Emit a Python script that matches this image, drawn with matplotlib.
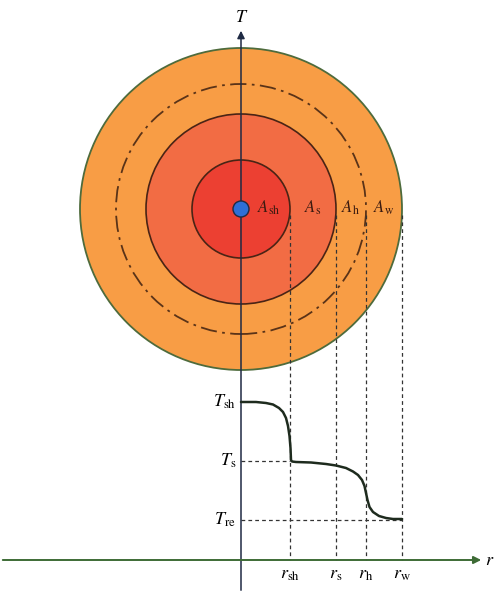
import matplotlib.pyplot as plt
from matplotlib.patches import Circle

plt.rcParams["mathtext.fontset"] = "stix"
plt.rcParams["font.family"] = "STIXGeneral"

# zone radii (sh = shell, s, h, w = wall) along the r axis
radii = [49, 95, 125, 161]
r_names = ["sh", "s", "h", "w"]
ring_colors = ["#EC4032", "#F26C44", "#F89D45", "#F89D45"]
center_y = 351

# temperature levels
T_levels = [158, 99, 40]
T_names = ["sh", "s", "re"]

# temperature profile T(r)
prof_r = [0, 15, 25, 32, 38, 42, 45, 47, 48.5, 49.5, 50, 51, 55, 70, 85, 95,
          105, 112, 117, 121, 123.5, 125, 126.5, 128.5, 132, 138, 145, 152, 161]
prof_T = [158, 158, 157, 155.5, 152, 148, 142, 134, 124, 112, 100, 98.5, 98,
          97.5, 96, 94.5, 92, 88.5, 85, 80, 74, 67, 60, 53, 48, 44, 42, 41, 41]

fig = plt.figure(figsize=(4.95, 5.93), dpi=100)
ax = fig.add_axes([0, 0, 1, 1])
ax.set_xlim(-241, 254)
ax.set_ylim(-33, 560)
ax.axis("off")

# concentric zones, outermost first
ax.add_patch(Circle((0, center_y), radii[3], fc=ring_colors[3], ec="#4E6B3C", lw=1.3, zorder=1))
ax.add_patch(Circle((0, center_y), radii[2], fc="none", ec="#5A3318", lw=1.3,
                    ls=(0, (9, 3, 1.5, 3)), zorder=2))
ax.add_patch(Circle((0, center_y), radii[1], fc=ring_colors[1], ec="#4A2415", lw=1.2, zorder=2))
ax.add_patch(Circle((0, center_y), radii[0], fc=ring_colors[0], ec="#4A2415", lw=1.2, zorder=3))

# axes with arrows
ax.annotate("", xy=(0, 532), xytext=(0, -33),
            arrowprops=dict(arrowstyle="-|>", color="#1F2A44", lw=1.1, mutation_scale=11),
            zorder=4)
ax.annotate("", xy=(243, 0), xytext=(-241, 0),
            arrowprops=dict(arrowstyle="-|>", color="#3D6B35", lw=1.4, mutation_scale=11),
            zorder=4)
ax.add_patch(Circle((0, center_y), 8, fc="#2F6FD6", ec="#1F2A44", lw=1.0, zorder=5))

# dashed guides
for r in radii:
    ax.plot([r, r], [center_y - 6, 0], ls=(0, (3, 2.5)), color="#333333", lw=0.9, zorder=3)
ax.plot([0, radii[0]], [T_levels[1]] * 2, ls=(0, (3, 2.5)), color="#333333", lw=0.9)
ax.plot([0, radii[3]], [T_levels[2]] * 2, ls=(0, (3, 2.5)), color="#333333", lw=0.9)

ax.plot(prof_r, prof_T, color="#1E2B1E", lw=1.8, solid_capstyle="round", zorder=4)

# labels
fs = 13
ax.text(1, 542, "$T$", fontsize=fs, ha="center", va="center")
ax.text(249, -1, "$r$", fontsize=fs, ha="center", va="center")
for name, T in zip(T_names, T_levels):
    ax.text(-5, T, rf"$T_{{\rm {name}}}$", fontsize=fs, ha="right", va="center")
for name, r in zip(r_names, radii):
    ax.text(r, -15, rf"$r_{{\rm {name}}}$", fontsize=fs, ha="center", va="center")

area_x = [28, 72, 109, 143]
for name, x in zip(r_names, area_x):
    ax.text(x, center_y + 1, rf"$A_{{\rm {name}}}$", fontsize=fs - 1, ha="center",
            va="center", color="#3A1A10", zorder=6)

fig.savefig("out.png", dpi=100)
